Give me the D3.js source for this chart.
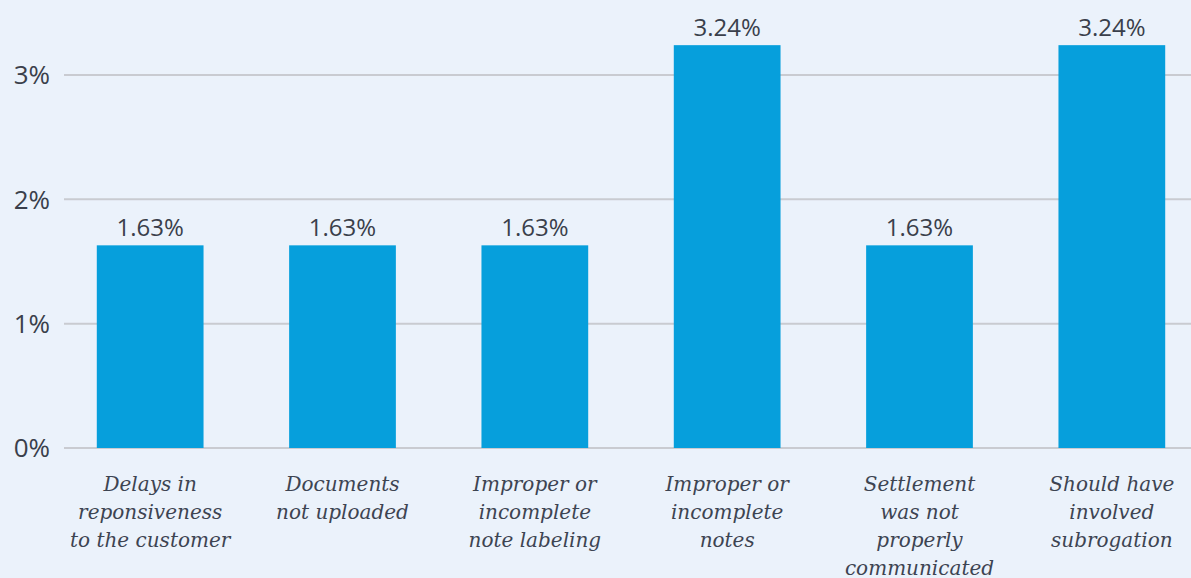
<!DOCTYPE html>
<html>
<head>
<meta charset="utf-8">
<script src="https://cdn.jsdelivr.net/npm/d3@7"></script>
<style>
  html, body { margin: 0; padding: 0; background: #ebf2fb; }
  #vis { width: 1191px; height: 578px; }
</style>
</head>
<body>
<div id="vis"></div>
<script>
const width = 1191;
const height = 578;

// Data
const categories = [
  ["Delays in", "reponsiveness", "to the customer"],
  ["Documents", "not uploaded"],
  ["Improper or", "incomplete", "note labeling"],
  ["Improper or", "incomplete", "notes"],
  ["Settlement", "was not", "properly", "communicated"],
  ["Should have", "involved", "subrogation"]
];
const values = [1.63, 1.63, 1.63, 3.24, 1.63, 3.24];
const yTicks = [0, 1, 2, 3];

const svg = d3.select("#vis").append("svg")
  .attr("width", width)
  .attr("height", height);

svg.append("rect")
  .attr("width", width)
  .attr("height", height)
  .attr("fill", "#ebf2fb");

const x = d3.scaleBand()
  .domain(d3.range(values.length))
  .range([54, 1208])
  .paddingInner(0.445)
  .paddingOuter(0.2225);

const y = d3.scaleLinear()
  .domain([0, 3])
  .range([448, 75]);

// Gridlines
svg.append("g")
  .selectAll("line")
  .data(yTicks)
  .enter().append("line")
  .attr("x1", 64)
  .attr("x2", width)
  .attr("y1", d => y(d))
  .attr("y2", d => y(d))
  .attr("stroke", "#c9cbd1")
  .attr("stroke-width", 2);

// Y labels
svg.append("g")
  .selectAll("text")
  .data(yTicks)
  .enter().append("text")
  .attr("x", 50)
  .attr("y", d => y(d))
  .attr("dy", "0.36em")
  .attr("text-anchor", "end")
  .attr("font-family", "'Open Sans', sans-serif")
  .attr("font-size", 26)
  .attr("fill", "#3a3f4b")
  .text(d => d + "%");

// Bars
svg.append("g")
  .selectAll("rect")
  .data(values)
  .enter().append("rect")
  .attr("x", (d, i) => x(i))
  .attr("y", d => y(d))
  .attr("width", x.bandwidth())
  .attr("height", d => y(0) - y(d))
  .attr("fill", "#069fdc");

// Value labels
svg.append("g")
  .selectAll("text")
  .data(values)
  .enter().append("text")
  .attr("x", (d, i) => x(i) + x.bandwidth() / 2)
  .attr("y", d => y(d) - 9)
  .attr("text-anchor", "middle")
  .attr("font-family", "'Open Sans', sans-serif")
  .attr("font-size", 24)
  .attr("fill", "#3a3f4b")
  .text(d => d.toFixed(2) + "%");

// Category labels
const cat = svg.append("g")
  .selectAll("text")
  .data(categories)
  .enter().append("text")
  .attr("x", (d, i) => x(i) + x.bandwidth() / 2)
  .attr("y", 491)
  .attr("text-anchor", "middle")
  .attr("font-family", "'DejaVu Serif', serif")
  .attr("font-style", "italic")
  .attr("font-size", 20)
  .attr("fill", "#3d4452");

cat.selectAll("tspan")
  .data(d => d)
  .enter().append("tspan")
  .attr("x", function () { return d3.select(this.parentNode).attr("x"); })
  .attr("dy", (d, i) => i === 0 ? 0 : 28)
  .text(d => d);
</script>
</body>
</html>
